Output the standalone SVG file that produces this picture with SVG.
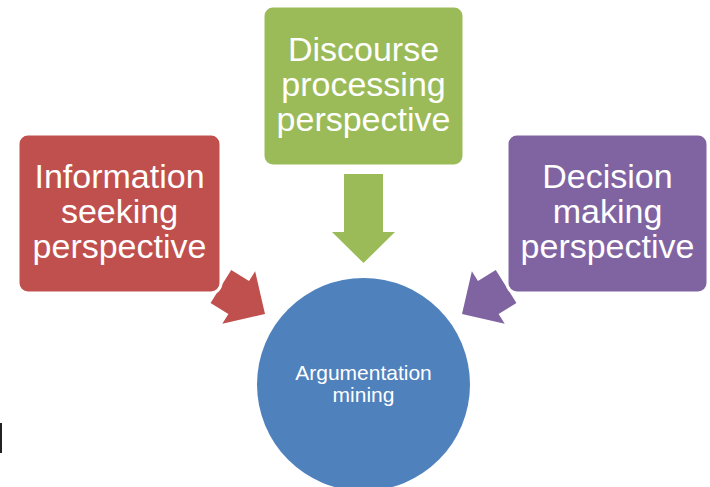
<svg xmlns="http://www.w3.org/2000/svg" width="710" height="487" viewBox="0 0 710 487">
<defs>
<style>
.box{stroke:#fff;stroke-width:3}
.lbl{font-family:"Liberation Sans",Arial,sans-serif;font-size:34px;fill:#fff;text-anchor:middle}
.sm{font-family:"Liberation Sans",Arial,sans-serif;font-size:21px;fill:#fff;text-anchor:middle}
</style>
<polygon id="arr" points="0,0 -31,-31 -31,-19.5 -52,-19.5 -52,19.5 -31,19.5 -31,31"/>
</defs>
<rect width="710" height="487" fill="#fff"/>
<rect x="0" y="423" width="2" height="30" fill="#222"/>
<g id="connectors">
<use href="#arr" fill="#C0504D" transform="translate(265,314) rotate(32)"/>
<use href="#arr" fill="#8064A2" transform="translate(462,314) rotate(148)"/>
<polygon fill="#9BBB59" points="344,174 383,174 383,232 395,232 363.5,263 332,232 344,232"/>
</g>
<g id="argumentation">
<circle cx="363.5" cy="384.5" r="106.5" fill="#4F81BD"/>
<text class="sm" x="363.5" y="380">Argumentation</text>
<text class="sm" x="363.5" y="402">mining</text>
</g>
<g id="information">
<rect class="box" x="18" y="134" width="203" height="159" rx="10" fill="#C0504D"/>
<text class="lbl" x="119.5" y="188">Information</text>
<text class="lbl" x="119.5" y="223">seeking</text>
<text class="lbl" x="119.5" y="258">perspective</text>
</g>
<g id="discourse">
<rect class="box" x="263" y="6" width="201" height="160" rx="10" fill="#9BBB59"/>
<text class="lbl" x="363.5" y="61">Discourse</text>
<text class="lbl" x="363.5" y="96">processing</text>
<text class="lbl" x="363.5" y="131">perspective</text>
</g>
<g id="decision">
<rect class="box" x="507" y="134" width="201" height="159" rx="10" fill="#8064A2"/>
<text class="lbl" x="607.5" y="188">Decision</text>
<text class="lbl" x="607.5" y="223">making</text>
<text class="lbl" x="607.5" y="258">perspective</text>
</g>
</svg>
